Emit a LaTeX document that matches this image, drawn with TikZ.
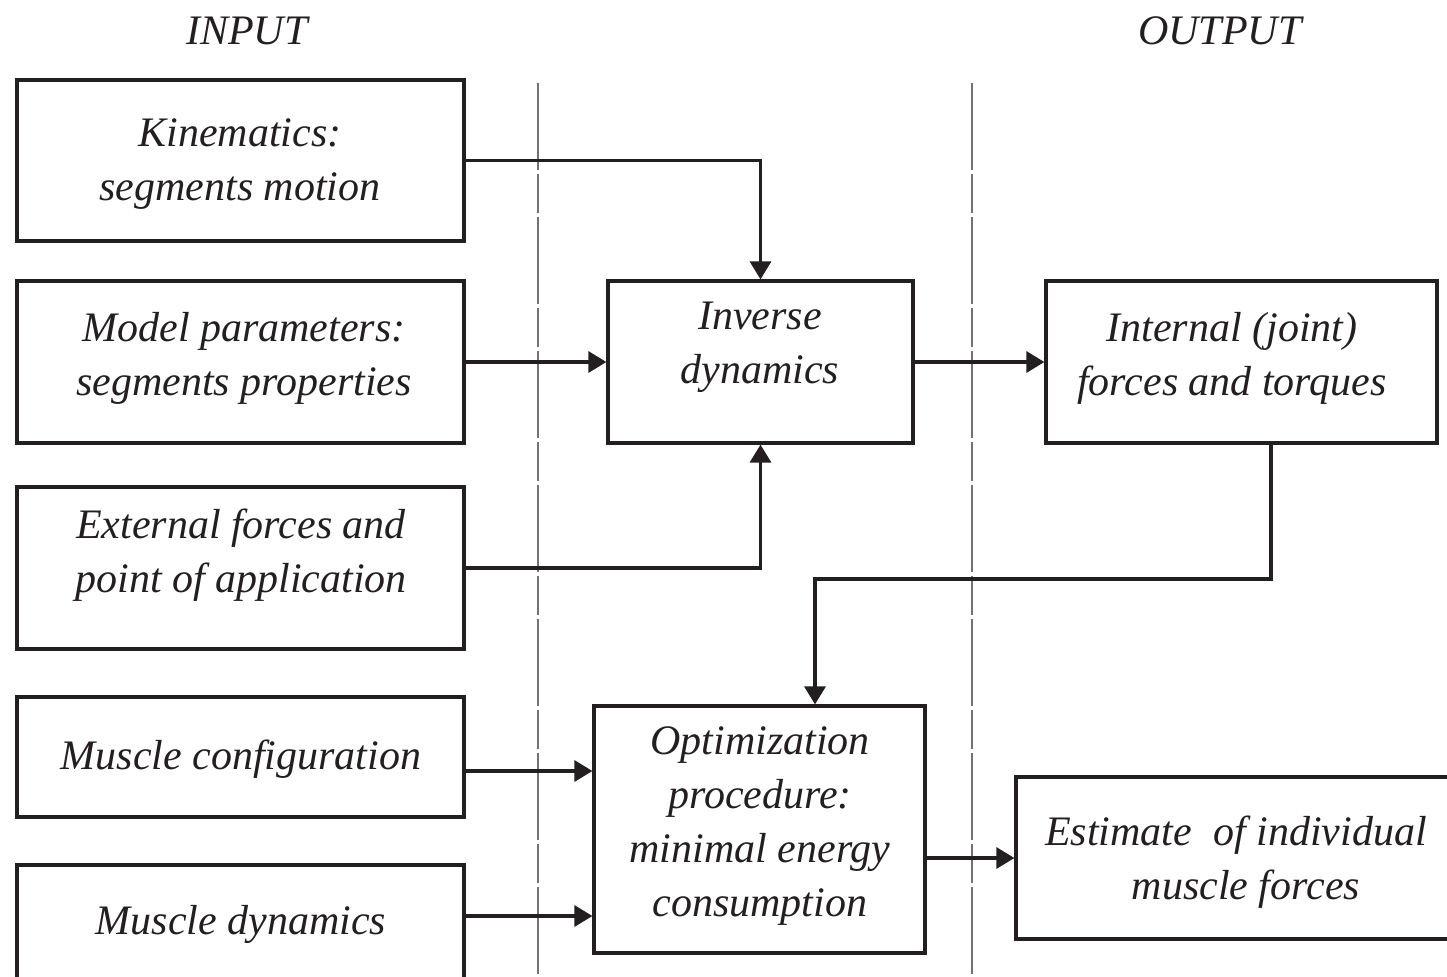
\documentclass[tikz,border=0pt]{standalone}
\usepackage{fontspec}
\setmainfont{Liberation Serif}
\usetikzlibrary{arrows.meta,calc}
\definecolor{ink}{RGB}{35,31,32}
\definecolor{sep}{RGB}{115,115,115}
\tikzset{
  box/.style={draw=ink, line width=1.6pt, rectangle, inner sep=0pt},
  txt/.style={align=center, text=ink, inner sep=0pt, font=\fontsize{21pt}{27pt}\selectfont\itshape},
  arr/.style={draw=ink, line width=1.6pt, -{Triangle[length=9pt,width=10.5pt]}},
  sepline/.style={draw=sep, line width=1.4pt, dash pattern=on 43.5pt off 2pt on 19.5pt off 2pt},
}
\begin{document}
\begin{tikzpicture}[x=0.5pt,y=-0.5pt]
\useasboundingbox (0,0) rectangle (1447,976);
\clip (0,0) rectangle (1447,976);
% separators
\draw[sepline] (538,83) -- (538,990);
\draw[sepline] (972,83) -- (972,990);
% headers
\node[txt] (hin) at (247,31) {INPUT};
\node[txt] (hout) at (1220,31) {OUTPUT};
% boxes
\node[box, minimum width=223.5pt, minimum height=80.5pt] (kin) at (240.5,160.5) {};
\node[box, minimum width=223.5pt, minimum height=81pt] (mod) at (240.5,362) {};
\node[box, minimum width=223.5pt, minimum height=81pt] (ext) at (240.5,568) {};
\node[box, minimum width=223.5pt, minimum height=60pt] (mconf) at (240.5,757) {};
\node[box, minimum width=223.5pt, minimum height=82.5pt] (mdyn) at (240.5,947.5) {};
\node[box, minimum width=152.5pt, minimum height=81pt] (inv) at (760.5,362) {};
\node[box, minimum width=195.5pt, minimum height=81pt] (intl) at (1241.5,362) {};
\node[box, minimum width=165.5pt, minimum height=123.5pt] (opt) at (759.5,829.5) {};
\node[box, minimum width=242pt, minimum height=81pt] (est) at (1258,858) {};
% texts
\node[txt] (kinT) at (240,164) {Kinematics:\\segments motion};
\node[txt] (modT) at (244,358) {Model parameters:\\segments properties};
\node[txt] (extT) at (241,555) {External forces and\\point of application};
\node[txt] (mconfT) at (241,759) {Muscle configuration};
\node[txt] (mdynT) at (241,924) {Muscle dynamics};
\node[txt] (invT) at (760,347.5) {Inverse\\dynamics};
\node[txt] (intlT) at (1232,358) {Internal (joint)\\forces and torques};
\node[txt] (optT) at (760,826) {Optimization\\procedure:\\minimal energy\\consumption};
\node[txt] (estT) at (1236,862) {Estimate\ \ of individual\\\hspace*{10pt}muscle forces};
% connectors
\coordinate (j1) at (1271,579);
\coordinate (j2) at (815,579);
\coordinate (c1) at (0,771);
\coordinate (c2) at (0,916);
\draw[arr] (kin.east) -| (inv.north);
\draw[arr] (mod.east) -- (inv.west);
\draw[arr] (ext.east) -| (inv.south);
\draw[arr] (inv.east) -- (intl.west);
\draw[arr] (intl.south -| j1) -- (j1) -- (j2) -- (opt.north -| j2);
\draw[arr] (mconf.east |- c1) -- (opt.west |- c1);
\draw[arr] (mdyn.east |- c2) -- (opt.west |- c2);
\draw[arr] (opt.east |- est.west) -- (est.west);
\end{tikzpicture}
\end{document}
